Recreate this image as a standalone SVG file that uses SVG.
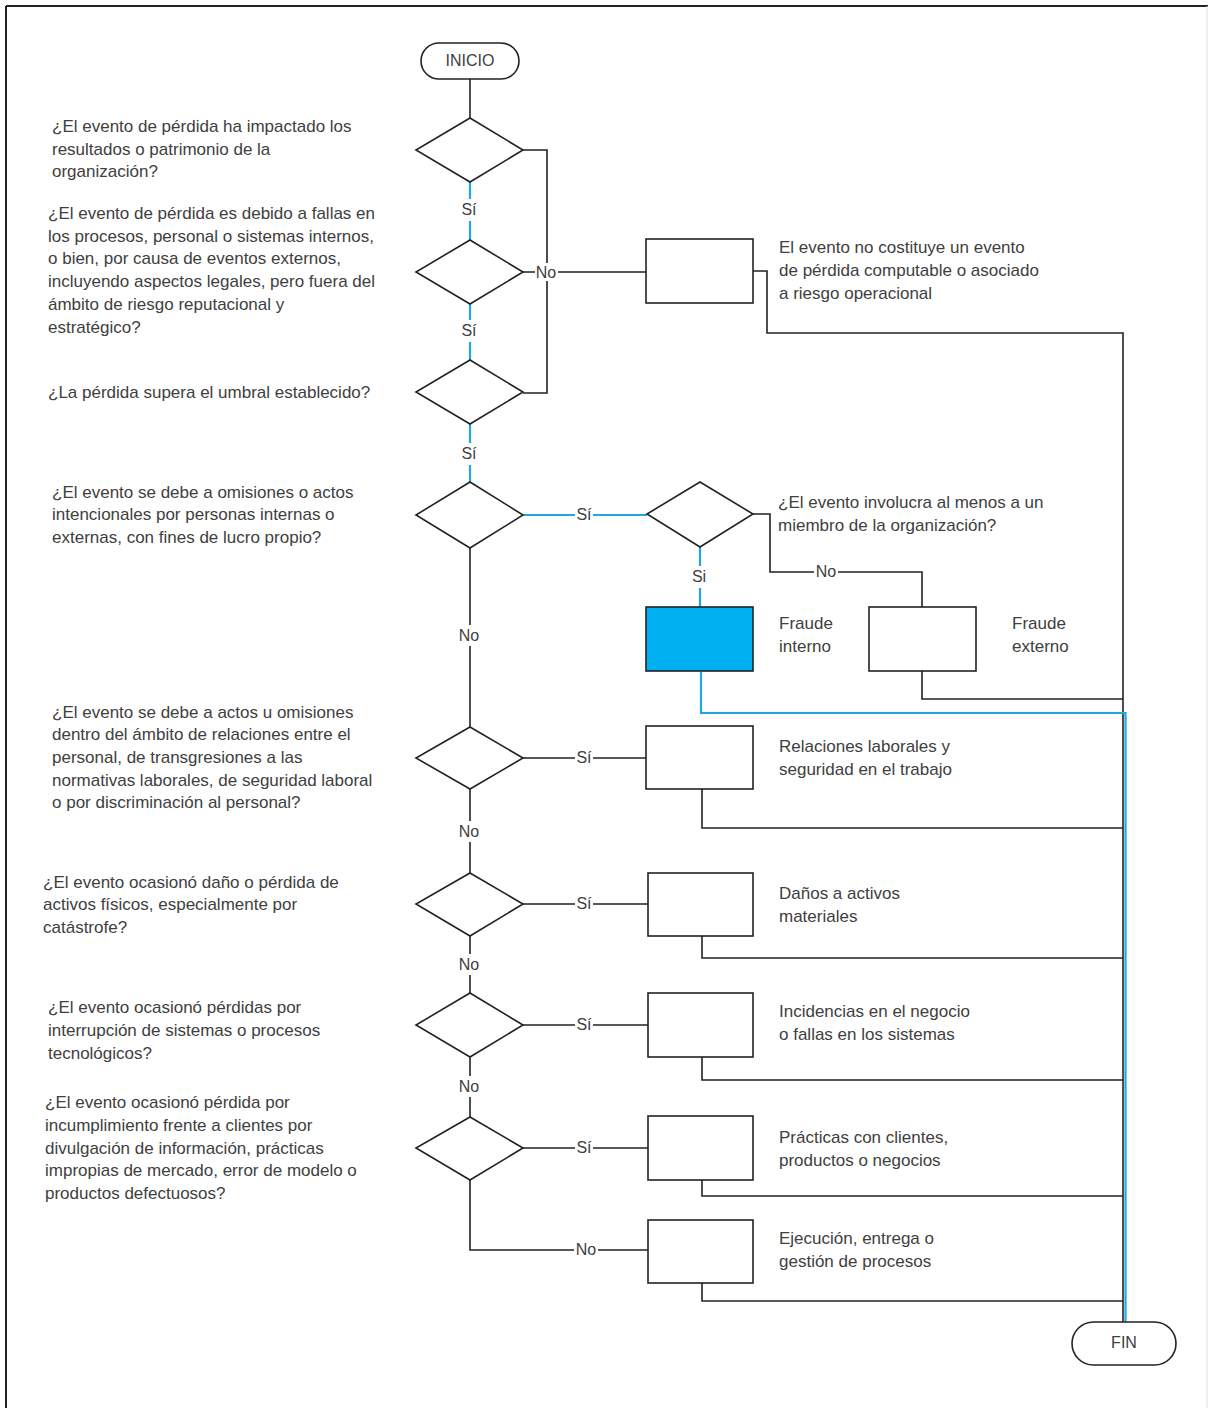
<svg xmlns="http://www.w3.org/2000/svg" width="1208" height="1408" viewBox="0 0 1208 1408">
<style>
.t{font-family:"Liberation Sans",Arial,sans-serif;font-size:17px;fill:#404040}
.lbl{font-family:"Liberation Sans",Arial,sans-serif;font-size:16px;fill:#404040;text-anchor:middle}
.sh{fill:#fff;stroke:#222;stroke-width:1.6}
.k{fill:none;stroke:#222;stroke-width:1.6}
.b{fill:none;stroke:#1ea7e1;stroke-width:2.2}
.bg{fill:#fff}
</style>
<rect x="0" y="0" width="1208" height="1408" fill="#fff"/>
<g id="frame">
<line x1="6" y1="6" x2="1208" y2="6" stroke="#222" stroke-width="2"/>
<line x1="6" y1="6" x2="6" y2="1408" stroke="#222" stroke-width="2"/>
<line x1="1207" y1="6" x2="1207" y2="1408" stroke="#ddd" stroke-width="1"/>
</g>
<g id="connectors">
<path class="k" d="M470 79V118"/>
<path class="k" d="M523 150H547V393H523"/>
<path class="k" d="M523 272H646"/>
<path class="k" d="M753 271H767V333H1123V1322"/>
<path class="b" d="M470 182V240"/>
<path class="b" d="M470 304V360"/>
<path class="b" d="M470 424V482"/>
<path class="b" d="M523 515H647"/>
<path class="b" d="M700 547V607"/>
<path class="k" d="M753 514H770V572H922V607"/>
<path class="k" d="M922 671V699H1123"/>
<path class="k" d="M470 548V727"/>
<path class="k" d="M523 758H646"/>
<path class="k" d="M702 789V828H1123"/>
<path class="k" d="M470 789V873"/>
<path class="k" d="M523 904H648"/>
<path class="k" d="M702 936V958H1123"/>
<path class="k" d="M470 936V993"/>
<path class="k" d="M523 1025H648"/>
<path class="k" d="M702 1057V1080H1123"/>
<path class="k" d="M470 1057V1117"/>
<path class="k" d="M523 1148H648"/>
<path class="k" d="M702 1180V1196H1123"/>
<path class="k" d="M470 1180V1250H648"/>
<path class="k" d="M702 1283V1301H1123"/>
<path class="b" d="M701 672V713H1125.5V1322"/>
<rect class="bg" x="460" y="199" width="20" height="22"/>
<text class="lbl" x="469" y="215">Sí</text>
<rect class="bg" x="460" y="320" width="20" height="22"/>
<text class="lbl" x="469" y="336">Sí</text>
<rect class="bg" x="460" y="443" width="20" height="22"/>
<text class="lbl" x="469" y="459">Sí</text>
<rect class="bg" x="535" y="263" width="23" height="18"/>
<text class="lbl" x="546" y="278">No</text>
<rect class="bg" x="575" y="506" width="18" height="18"/>
<text class="lbl" x="584" y="520">Sí</text>
<rect class="bg" x="690" y="566" width="20" height="22"/>
<text class="lbl" x="699" y="582">Si</text>
<rect class="bg" x="814" y="563" width="24" height="18"/>
<text class="lbl" x="826" y="577">No</text>
<rect class="bg" x="457" y="625" width="25" height="21"/>
<text class="lbl" x="469" y="641">No</text>
<rect class="bg" x="575" y="749" width="18" height="18"/>
<text class="lbl" x="584" y="763">Sí</text>
<rect class="bg" x="457" y="821" width="25" height="21"/>
<text class="lbl" x="469" y="837">No</text>
<rect class="bg" x="575" y="895" width="18" height="18"/>
<text class="lbl" x="584" y="909">Sí</text>
<rect class="bg" x="457" y="954" width="25" height="21"/>
<text class="lbl" x="469" y="970">No</text>
<rect class="bg" x="575" y="1016" width="18" height="18"/>
<text class="lbl" x="584" y="1030">Sí</text>
<rect class="bg" x="457" y="1076" width="25" height="21"/>
<text class="lbl" x="469" y="1092">No</text>
<rect class="bg" x="575" y="1139" width="18" height="18"/>
<text class="lbl" x="584" y="1153">Sí</text>
<rect class="bg" x="574" y="1241" width="24" height="18"/>
<text class="lbl" x="586" y="1255">No</text>
</g>
<g id="inicio">
<rect class="sh" x="421" y="43" width="98" height="36" rx="18"/>
<text class="lbl" x="470" y="66">INICIO</text>
</g>
<g id="q1">
<polygon class="sh" points="470,118 523,150 470,182 416,150"/>
<text class="t"><tspan x="52" y="132">¿El evento de pérdida ha impactado los</tspan><tspan x="52" y="155">resultados o patrimonio de la</tspan><tspan x="52" y="177">organización?</tspan></text>
</g>
<g id="q2">
<polygon class="sh" points="470,240 523,272 470,304 416,272"/>
<text class="t"><tspan x="48" y="219">¿El evento de pérdida es debido a fallas en</tspan><tspan x="48" y="242">los procesos, personal o sistemas internos,</tspan><tspan x="48" y="264">o bien, por causa de eventos externos,</tspan><tspan x="48" y="287">incluyendo aspectos legales, pero fuera del</tspan><tspan x="48" y="310">ámbito de riesgo reputacional y</tspan><tspan x="48" y="333">estratégico?</tspan></text>
</g>
<g id="no-computable">
<rect class="sh" x="646" y="239" width="107" height="64"/>
<text class="t"><tspan x="779" y="253">El evento no costituye un evento</tspan><tspan x="779" y="276">de pérdida computable o asociado</tspan><tspan x="779" y="299">a riesgo operacional</tspan></text>
</g>
<g id="q3">
<polygon class="sh" points="470,360 523,392 470,424 416,392"/>
<text class="t" x="48" y="398">¿La pérdida supera el umbral establecido?</text>
</g>
<g id="q4">
<polygon class="sh" points="470,482 523,515 470,548 416,515"/>
<text class="t"><tspan x="52" y="498">¿El evento se debe a omisiones o actos</tspan><tspan x="52" y="520">intencionales por personas internas o</tspan><tspan x="52" y="543">externas, con fines de lucro propio?</tspan></text>
</g>
<g id="q5">
<polygon class="sh" points="700,482 753,514 700,547 647,514"/>
<text class="t"><tspan x="778" y="508">¿El evento involucra al menos a un</tspan><tspan x="778" y="531">miembro de la organización?</tspan></text>
</g>
<g id="fraude-interno">
<rect x="646" y="607" width="107" height="64" fill="#00b0f0" stroke="#222" stroke-width="1.6"/>
<text class="t"><tspan x="779" y="629">Fraude</tspan><tspan x="779" y="652">interno</tspan></text>
</g>
<g id="fraude-externo">
<rect class="sh" x="869" y="607" width="107" height="64"/>
<text class="t"><tspan x="1012" y="629">Fraude</tspan><tspan x="1012" y="652">externo</tspan></text>
</g>
<g id="q6">
<polygon class="sh" points="470,727 523,758 470,789 416,758"/>
<text class="t"><tspan x="52" y="718">¿El evento se debe a actos u omisiones</tspan><tspan x="52" y="740">dentro del ámbito de relaciones entre el</tspan><tspan x="52" y="763">personal, de transgresiones a las</tspan><tspan x="52" y="786">normativas laborales, de seguridad laboral</tspan><tspan x="52" y="808">o por discriminación al personal?</tspan></text>
</g>
<g id="relaciones">
<rect class="sh" x="646" y="726" width="107" height="63"/>
<text class="t"><tspan x="779" y="752">Relaciones laborales y</tspan><tspan x="779" y="775">seguridad en el trabajo</tspan></text>
</g>
<g id="q7">
<polygon class="sh" points="470,873 523,904 470,936 416,904"/>
<text class="t"><tspan x="43" y="888">¿El evento ocasionó daño o pérdida de</tspan><tspan x="43" y="910">activos físicos, especialmente por</tspan><tspan x="43" y="933">catástrofe?</tspan></text>
</g>
<g id="danos">
<rect class="sh" x="648" y="873" width="105" height="63"/>
<text class="t"><tspan x="779" y="899">Daños a activos</tspan><tspan x="779" y="922">materiales</tspan></text>
</g>
<g id="q8">
<polygon class="sh" points="470,993 523,1025 470,1057 416,1025"/>
<text class="t"><tspan x="48" y="1013">¿El evento ocasionó pérdidas por</tspan><tspan x="48" y="1036">interrupción de sistemas o procesos</tspan><tspan x="48" y="1059">tecnológicos?</tspan></text>
</g>
<g id="incidencias">
<rect class="sh" x="648" y="993" width="105" height="64"/>
<text class="t"><tspan x="779" y="1017">Incidencias en el negocio</tspan><tspan x="779" y="1040">o fallas en los sistemas</tspan></text>
</g>
<g id="q9">
<polygon class="sh" points="470,1117 523,1148 470,1180 416,1148"/>
<text class="t"><tspan x="45" y="1108">¿El evento ocasionó pérdida por</tspan><tspan x="45" y="1131">incumplimiento frente a clientes por</tspan><tspan x="45" y="1154">divulgación de información, prácticas</tspan><tspan x="45" y="1176">impropias de mercado, error de modelo o</tspan><tspan x="45" y="1199">productos defectuosos?</tspan></text>
</g>
<g id="practicas">
<rect class="sh" x="648" y="1116" width="105" height="64"/>
<text class="t"><tspan x="779" y="1143">Prácticas con clientes,</tspan><tspan x="779" y="1166">productos o negocios</tspan></text>
</g>
<g id="ejecucion">
<rect class="sh" x="648" y="1220" width="105" height="63"/>
<text class="t"><tspan x="779" y="1244">Ejecución, entrega o</tspan><tspan x="779" y="1267">gestión de procesos</tspan></text>
</g>
<g id="fin">
<rect class="sh" x="1072" y="1322" width="104" height="43" rx="21.5"/>
<text class="lbl" x="1124" y="1348">FIN</text>
</g>
</svg>
